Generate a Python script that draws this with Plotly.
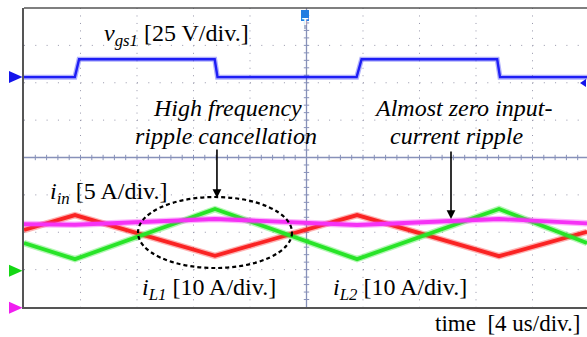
import plotly.graph_objects as go

# ---- canvas / screen geometry -------------------------------------------
W, H = 587, 337
ML, MR, MT, MB = 24, 0, 8, 30
PW, PH = W - ML - MR, H - MT - MB

US_PER_DIV = 4.0            # horizontal scale, us per division
PX_PER_DIV_X = 56.5
X_MAX = PW / PX_PER_DIV_X * US_PER_DIV
Y_HALF = 4                  # +/- 4 vertical divisions

# ---- channel settings: units per division and ground level (div) ---------
VGS_SCALE, VGS_LEVEL = 25.0, 2.15
IL_SCALE, IL_LEVEL = 10.0, -3.03
IIN_SCALE, IIN_LEVEL = 5.0, -4.02

# ---- captured waveforms ---------------------------------------------------
t_vgs_us = [0.0, 3.6, 3.9, 13.5, 13.7, 23.55, 23.9, 33.5, 33.7, 39.86]
vgs_v = [0, 0, 12, 12, 0, 0, 12, 12, 0, 0]

t_i_us = [0.0, 3.61, 13.52, 23.58, 33.63, 39.86]
il1_a = [10.9, 14.9, 4.0, 14.9, 3.9, 10.4]
il2_a = [7.4, 3.1, 16.5, 3.1, 16.5, 7.4]
iin_a = [11.2, 11.1, 11.87, 11.07, 11.87, 11.3]

SERIF = "Liberation Serif"


def to_div(values, scale, level):
    return [level + v / scale for v in values]


def px(x):
    """screen x pixel -> paper fraction"""
    return (x - ML) / PW


def py(y):
    """screen y pixel -> paper fraction"""
    return (H - MB - y) / PH


fig = go.Figure()

channels = [
    (t_vgs_us, to_div(vgs_v, VGS_SCALE, VGS_LEVEL), "rgb(30,30,245)", 2.4, 5.0),
    (t_i_us, to_div(il1_a, IL_SCALE, IL_LEVEL), "rgb(250,35,35)", 3.8, 6.5),
    (t_i_us, to_div(il2_a, IL_SCALE, IL_LEVEL), "rgb(40,228,40)", 3.8, 6.5),
    (t_i_us, to_div(iin_a, IIN_SCALE, IIN_LEVEL), "rgb(245,50,245)", 3.8, 6.5),
]
for t, y, col, w_core, w_halo in channels:
    halo = col.replace("rgb", "rgba").replace(")", ",0.35)")
    fig.add_trace(go.Scatter(x=t, y=y, mode="lines", line=dict(color=halo, width=w_halo),
                             hoverinfo="skip", showlegend=False))
    fig.add_trace(go.Scatter(x=t, y=y, mode="lines", line=dict(color=col, width=w_core),
                             hoverinfo="skip", showlegend=False))

shapes = []
GRID_COL = "rgb(150,150,170)"
CENTER_COL = "rgb(135,145,185)"
x_mid = 5 * US_PER_DIV

# dotted graticule: dots every 1/5 division
for k in range(1, 10):
    if k == 5:
        continue
    xv = k * US_PER_DIV
    shapes.append(dict(type="line", xref="x", yref="y", x0=xv, x1=xv, y0=Y_HALF, y1=-Y_HALF,
                       line=dict(color=GRID_COL, width=1, dash="1px,6.47px"), layer="below"))
for k in range(-3, 4):
    if k == 0:
        continue
    shapes.append(dict(type="line", xref="x", yref="y", x0=0, x1=X_MAX, y0=k, y1=k,
                       line=dict(color=GRID_COL, width=1, dash="1px,10.3px"), layer="below"))

# centre cross-hair with minor tick marks
shapes.append(dict(type="line", xref="x", yref="y", x0=0, x1=X_MAX, y0=0, y1=0,
                   line=dict(color=CENTER_COL, width=1.3), layer="below"))
shapes.append(dict(type="line", xref="x", yref="y", x0=x_mid, x1=x_mid, y0=-Y_HALF, y1=Y_HALF,
                   line=dict(color=CENTER_COL, width=1.3), layer="below"))
tick_y = 2.7 / 37.375
tick_x = 2.7 / PX_PER_DIV_X * US_PER_DIV
for k in range(1, 50):
    xv = k * US_PER_DIV / 5
    if xv > X_MAX:
        break
    shapes.append(dict(type="line", xref="x", yref="y", x0=xv, x1=xv, y0=-tick_y, y1=tick_y,
                       line=dict(color=CENTER_COL, width=1), layer="below"))
for k in range(-19, 20):
    yv = k / 5
    shapes.append(dict(type="line", xref="x", yref="y", x0=x_mid - tick_x, x1=x_mid + tick_x,
                       y0=yv, y1=yv, line=dict(color=CENTER_COL, width=1), layer="below"))

# top frame edge
shapes.append(dict(type="line", xref="paper", yref="paper", x0=0, x1=1, y0=1, y1=1,
                   line=dict(color="rgb(85,85,85)", width=1.6)))


def marker(ypix, col):
    return dict(type="path", xref="paper", yref="paper",
                path=f"M {px(9)} {py(ypix - 6)} L {px(22.5)} {py(ypix)} L {px(9)} {py(ypix + 6)} Z",
                fillcolor=col, line=dict(width=0))


shapes.append(marker(77, "rgb(20,20,235)"))
shapes.append(marker(270.7, "rgb(20,215,20)"))
shapes.append(marker(307.7, "rgb(240,30,240)"))
# small level marker on the right edge
shapes.append(dict(type="path", xref="paper", yref="paper",
                   path=f"M {px(580)} {py(83)} L {px(586)} {py(79)} L {px(586)} {py(87)} Z",
                   fillcolor="rgb(20,20,235)", line=dict(width=0)))

# trigger position flag
shapes.append(dict(type="line", xref="paper", yref="paper", x0=px(305), x1=px(305),
                   y0=py(20), y1=py(29), line=dict(color="rgb(150,160,190)", width=1.5)))
shapes.append(dict(type="rect", xref="paper", yref="paper", x0=px(301), x1=px(309),
                   y0=py(21), y1=py(10), fillcolor="rgb(35,125,225)", line=dict(width=0)))

# dashed ellipse around the cancellation region
shapes.append(dict(type="circle", xref="x", yref="y",
                   x0=(138 - ML) / PX_PER_DIV_X * US_PER_DIV, x1=(292 - ML) / PX_PER_DIV_X * US_PER_DIV,
                   y0=-2.957, y1=-1.057,
                   line=dict(color="black", width=2.2, dash="4px,3px")))

ann = []
FS = 24


def label(text, x, y, anchor="left", size=FS, ref="data"):
    xr, yr = ("x", "y") if ref == "data" else ("paper", "paper")
    return dict(text=text, x=x, y=y, xref=xr, yref=yr, xanchor=anchor, yanchor="middle",
                showarrow=False, font=dict(family=SERIF, size=size, color="black"))


ann.append(label("<i>v</i><sub><i>gs1</i></sub> [25 V/div.]", 5.52, 3.27))
ann.append(label("<i>High frequency</i>", 14.44, 1.32, "center"))
ann.append(label("<i>ripple cancellation</i>", 14.27, 0.575, "center"))
ann.append(label("<i>Almost zero input-</i>", 31.08, 1.32, "center"))
ann.append(label("<i>current ripple</i>", 30.65, 0.575, "center"))
ann.append(label("<i>i</i><sub><i>in</i></sub> [5 A/div.]", 1.70, -0.95))
ann.append(label("<i>i</i><sub><i>L1</i></sub> [10 A/div.]", 8.21, -3.52))
ann.append(label("<i>i</i><sub><i>L2</i></sub> [10 A/div.]", 21.73, -3.52))
ann.append(label("time\u00a0 [4 us/div.]", px(582), py(323), "right", size=23, ref="paper"))
ann.append(dict(text="<b>T</b>", x=px(305), y=py(15.5), xref="paper", yref="paper",
                showarrow=False, font=dict(family="DejaVu Sans", size=9, color="white")))

for xh, yh, yt in [(13.66, -1.084, 0.254), (30.23, -1.645, 0.20)]:
    ann.append(dict(x=xh, y=yh, ax=xh, ay=yt, xref="x", yref="y", axref="x", ayref="y",
                    text="", showarrow=True, arrowhead=2, arrowsize=1.1, arrowwidth=1.6,
                    arrowcolor="black", standoff=0))

fig.update_layout(
    width=W, height=H,
    margin=dict(l=ML, r=MR, t=MT, b=MB),
    paper_bgcolor="white", plot_bgcolor="white",
    shapes=shapes, annotations=ann,
    xaxis=dict(range=[0, X_MAX], showgrid=False, zeroline=False, showticklabels=False,
               ticks="", showline=True, linecolor="rgb(85,85,85)", linewidth=1.6, fixedrange=True),
    yaxis=dict(range=[-Y_HALF, Y_HALF], showgrid=False, zeroline=False, showticklabels=False,
               ticks="", showline=True, linecolor="rgb(85,85,85)", linewidth=2, fixedrange=True),
    showlegend=False,
)

fig.write_html("out.html", config=dict(displayModeBar=False))
